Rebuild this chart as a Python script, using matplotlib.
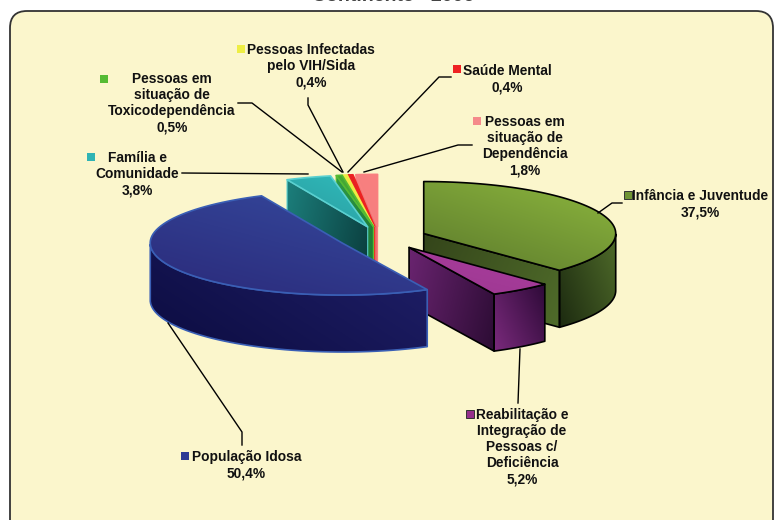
#Distribuicao por area de intervencao - Continente 2006
import matplotlib
matplotlib.use('Agg')
import matplotlib.pyplot as plt
from matplotlib.patches import Polygon, FancyBboxPatch, Rectangle
import numpy as np

plt.rcParams['font.family'] = ['Liberation Sans', 'DejaVu Sans']

# dados (sentido horario a partir das 12h)
areas = ['Infância e Juventude',
         'Reabilitação e\nIntegração de\nPessoas c/\nDeficiência',
         'População Idosa',
         'Família e\nComunidade',
         'Pessoas em\nsituação de\nToxicodependência',
         'Pessoas Infectadas\npelo VIH/Sida',
         'Saúde Mental',
         'Pessoas em\nsituação de\nDependência']
valores = [37.5, 5.2, 50.4, 3.8, 0.5, 0.4, 0.4, 1.8]
rotulos = ['37,5%', '5,2%', '50,4%', '3,8%', '0,5%', '0,4%', '0,4%', '1,8%']

# topo claro, topo escuro, contorno, marcador
cores = [('#8db73e', '#5c7a2c', '#000000', '#6f9433'),
         ('#ab3d9f', '#9c3890', '#000000', '#952f8c'),
         ('#354a9e', '#2b2a7a', '#3a5fb5', '#2d3a94'),
         ('#30bcbc', '#2a9a9e', '#5ad0d0', '#2fb4b4'),
         ('#55bb33', '#2e8b3a', '#55bb33', '#55bb33'),
         ('#eeee44', '#e8e840', '#eeee44', '#eeee44'),
         ('#ee2222', '#dd2222', '#ee2222', '#ee2222'),
         ('#f98080', '#f47f7f', '#f98080', '#f58a8a')]
# parede curva (inicio, fim) e face do corte (inicio, fim)
paredes = [('#4f6b2a', '#1c2a10'), ('#2e0a38', '#7a2a7c'), ('#20206a', '#0c0c40'),
           ('#1c7f7c', '#0a3c3c'), ('#2f9a45', '#1e7a35'), ('#8cc63f', '#8cc63f'),
           ('#dd2020', '#aa1515'), ('#f47f7f', '#e87070')]
faces = [('#34451a', '#4f6b2a'), ('#6a2470', '#2c0c34'), ('#20206a', '#0c0c40'),
         ('#1c7f7c', '#0a3c3c'), ('#2f9a45', '#1e7a35'), ('#8cc63f', '#8cc63f'),
         ('#dd2020', '#aa1515'), ('#f47f7f', '#e87070')]

# geometria da tarte em pixeis
cx, cy = 383, 238
rx, ry = 192, 52
altura = 57
explode = 43
# pequeno acerto horizontal de cada fatia
acerto = [1, 1, -2, -2, -2, -3, -3, -3]

# posicao dos rotulos e marcadores
pos_texto = [(700, 204), (522, 447), (246.5, 465), (137, 174),
             (172, 103), (311, 66), (507, 79), (525, 146)]
pos_marca = [(628, 195), (470, 414), (185, 456), (91, 157),
             (104, 79), (241, 49), (457, 69), (477, 121)]
guias = [[(622, 203), (612, 203), (598, 213)],
         [(518, 403), (520, 349)],
         [(242, 445), (242, 432), (168, 323)],
         [(182, 173), (308, 174)],
         [(238, 103), (252, 103), (342, 172)],
         [(308, 98), (308, 105), (343, 172)],
         [(451, 77), (439, 77), (348, 172)],
         [(472, 145), (458, 145), (364, 172)]]

fig = plt.figure(figsize=(7.74, 5.2), dpi=100)
ax = fig.add_axes([0, 0, 1, 1])
ax.set_xlim(0, 774)
ax.set_ylim(520, 0)
ax.axis('off')

fundo = FancyBboxPatch((27, 28), 729, 520, boxstyle='round,pad=17,rounding_size=17',
                       fc='#fbf6cc', ec='#333333', lw=1.3, zorder=0)
ax.add_patch(fundo)
ax.text(393, 1, 'Continente - 2006', ha='center', va='baseline', fontsize=14,
        fontweight='bold', color='#444444', zorder=1)


def gradiente(pts, c1, c2, ang, z):
    # preenche o poligono com um degrade linear
    pts = np.array(pts)
    x0, y0 = pts.min(axis=0)
    x1, y1 = pts.max(axis=0)
    xx, yy = np.meshgrid(np.linspace(0, 1, 64), np.linspace(0, 1, 64))
    t = xx * np.cos(ang) + yy * np.sin(ang)
    t = (t - t.min()) / (t.max() - t.min())
    a = np.array(matplotlib.colors.to_rgb(c1))
    b = np.array(matplotlib.colors.to_rgb(c2))
    img = a + (b - a) * t[..., None]
    im = ax.imshow(img, extent=(x0, x1, y1, y0), zorder=z, aspect='auto', interpolation='bilinear')
    im.set_clip_path(Polygon(pts, closed=True, transform=ax.transData))


def aresta(pts, cor, z, lw=1.2):
    ax.add_patch(Polygon(pts, closed=True, fc='none', ec=cor, lw=lw, zorder=z, joinstyle='round'))


def borda(a1, a2, ax0, ay0):
    t = np.radians(np.linspace(a1, a2, 80))
    return np.column_stack([ax0 + rx * np.cos(t), ay0 - ry * np.sin(t)])


# angulos a partir dos valores, sentido horario
fim = 90 - np.cumsum(valores) * 360 / sum(valores)
inicio = np.r_[90, fim[:-1]]
ordem = [0, 1, 7, 6, 5, 4, 3, 2]
z = 2
for i in ordem:
    a1, a2 = inicio[i], fim[i]
    meio = np.radians((a1 + a2) / 2)
    ax0 = cx + explode * np.cos(meio) + acerto[i]
    ay0 = cy - explode * ry / rx * np.sin(meio)
    c = cores[i]
    arco = borda(a1, a2, ax0, ay0)
    apice = np.array([ax0, ay0])
    baixo = np.array([0, altura])
    # parede curva (so a parte virada para a frente)
    frente = arco[np.sin(np.radians(np.linspace(a1, a2, 80))) < 0.001]
    if len(frente) > 1:
        parede = np.vstack([frente, (frente + baixo)[::-1]])
        gradiente(parede, paredes[i][0], paredes[i][1], 2.6, z)
        aresta(parede, c[2], z + 0.5)
    # face do corte virada para a frente
    if i != 2:
        p = arco[-1] if i < 2 else arco[0]
        face = [apice, p, p + baixo, apice + baixo]
        gradiente(face, faces[i][0], faces[i][1], 0.3, z + 0.2)
        aresta(face, c[2], z + 0.5, 1.2 if i < 2 else 0.8)
    topo = np.vstack([apice, arco])
    gradiente(topo, c[0], c[1], 2.2, z + 0.6)
    aresta(topo, c[2], z + 0.7)
    z += 1

for g in guias:
    g = np.array(g)
    ax.plot(g[:, 0], g[:, 1], color='black', lw=1, zorder=20)

for nome, val, p, m, c in zip(areas, rotulos, pos_texto, pos_marca, cores):
    ax.text(p[0], p[1], nome + '\n' + val, ha='center', va='center', fontsize=9.9,
            fontweight='bold', color='#111111', linespacing=1.2, zorder=21)
    ax.add_patch(Rectangle((m[0] - 4, m[1] - 4), 8, 8, fc=c[3],
                           ec='#333333' if c[2] == '#000000' else 'none', lw=0.7, zorder=21))

ax.set_xlim(0, 774)
ax.set_ylim(520, 0)
fig.savefig('out.png', dpi=100)
